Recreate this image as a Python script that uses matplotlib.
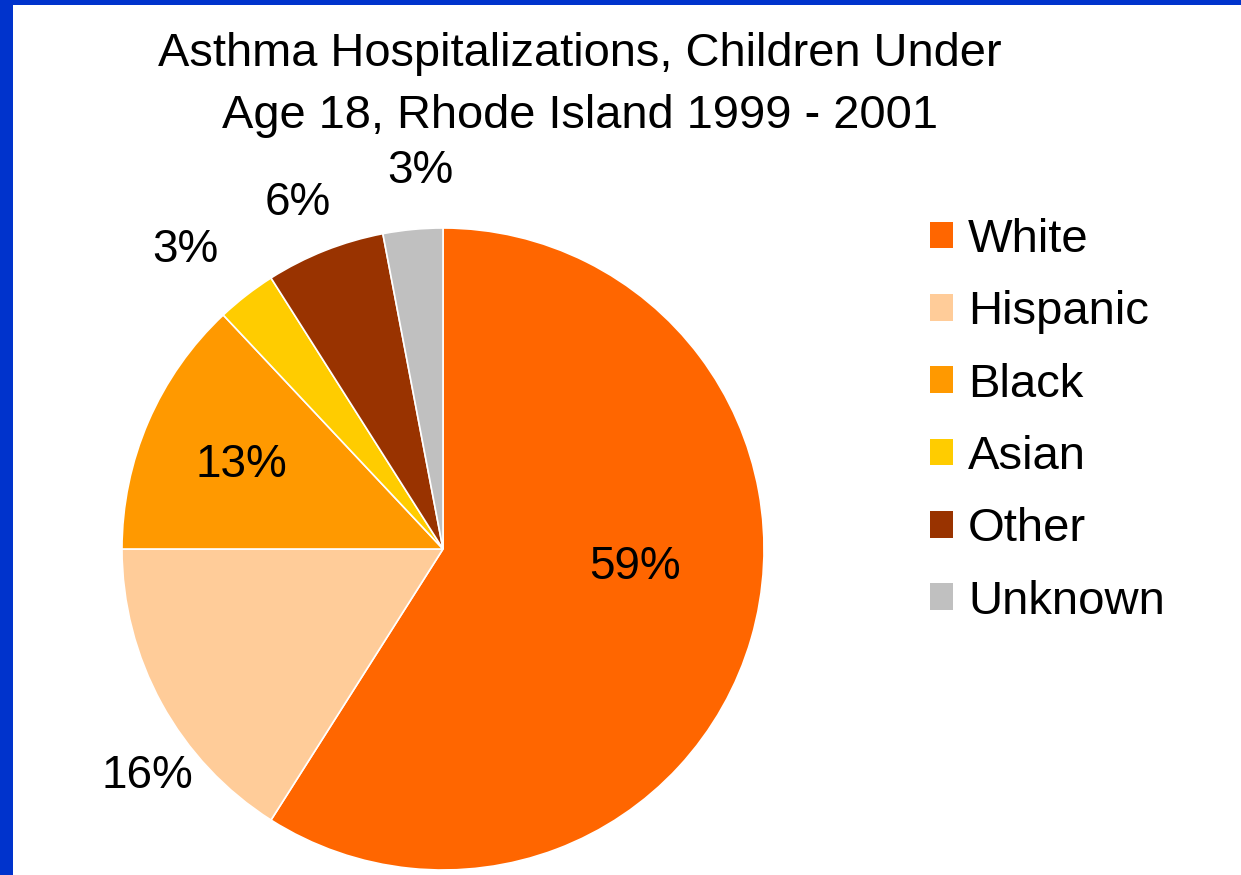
import numpy as np
import matplotlib.pyplot as plt
from matplotlib.patches import Rectangle, Patch

groups = ["White", "Hispanic", "Black", "Asian", "Other", "Unknown"]
shares = [59, 16, 13, 3, 6, 3]
colors = ["#FF6600", "#FFCC99", "#FF9900", "#FFCC00", "#993300", "#C0C0C0"]

# label placement (radius factor, angle shift in degrees from wedge middle)
label_r = [0.60, 1.16, 0.68, 1.23, 1.17, 1.18]
label_shift = [10.8, 8.7, 0.9, 3.0, 1.1, -1.9]

W, H = 1241, 875
cx, cy, R = 443, 549, 321

plt.rcParams['font.family'] = ['Liberation Sans', 'DejaVu Sans']

fig = plt.figure(figsize=(W / 100, H / 100), dpi=100)
fig.patch.set_facecolor("white")
ax = fig.add_axes([0, 0, 1, 1])
ax.axis("off")

wedges, _ = ax.pie(shares, colors=colors, startangle=90, counterclock=False,
                   radius=1, wedgeprops=dict(edgecolor="white", linewidth=1.2))
ax.set_aspect("auto")
ax.set_xlim(-cx / R, (W - cx) / R)
ax.set_ylim((cy - H) / R, cy / R)

for w, val, r, sh in zip(wedges, shares, label_r, label_shift):
    mid = np.deg2rad((w.theta1 + w.theta2) / 2 + sh)
    ax.text(r * np.cos(mid), r * np.sin(mid), f"{val}%", fontsize=33,
            ha="center", va="center", color="black")

fig.text(580 / W, 1 - 85 / H, "Asthma Hospitalizations, Children Under\nAge 18, Rhode Island 1999 - 2001",
         ha="center", va="center", fontsize=33.8, linespacing=1.5)

handles = [Patch(facecolor=c, edgecolor="none") for c in colors]
fig.legend(handles, groups, loc="upper left", bbox_to_anchor=(911 / W, 1 - 199 / H),
           frameon=False, fontsize=34, handlelength=0.49, handleheight=0.49,
           handletextpad=0.32, labelspacing=0.6, borderaxespad=0, borderpad=0.4)

# slide border
fig.add_artist(Rectangle((0, 0), 13 / W, 1, transform=fig.transFigure,
                         facecolor="#0033CC", edgecolor="none"))
fig.add_artist(Rectangle((0, 1 - 5 / H), 1, 5 / H, transform=fig.transFigure,
                         facecolor="#0033CC", edgecolor="none"))

fig.savefig("out.png", dpi=100)
